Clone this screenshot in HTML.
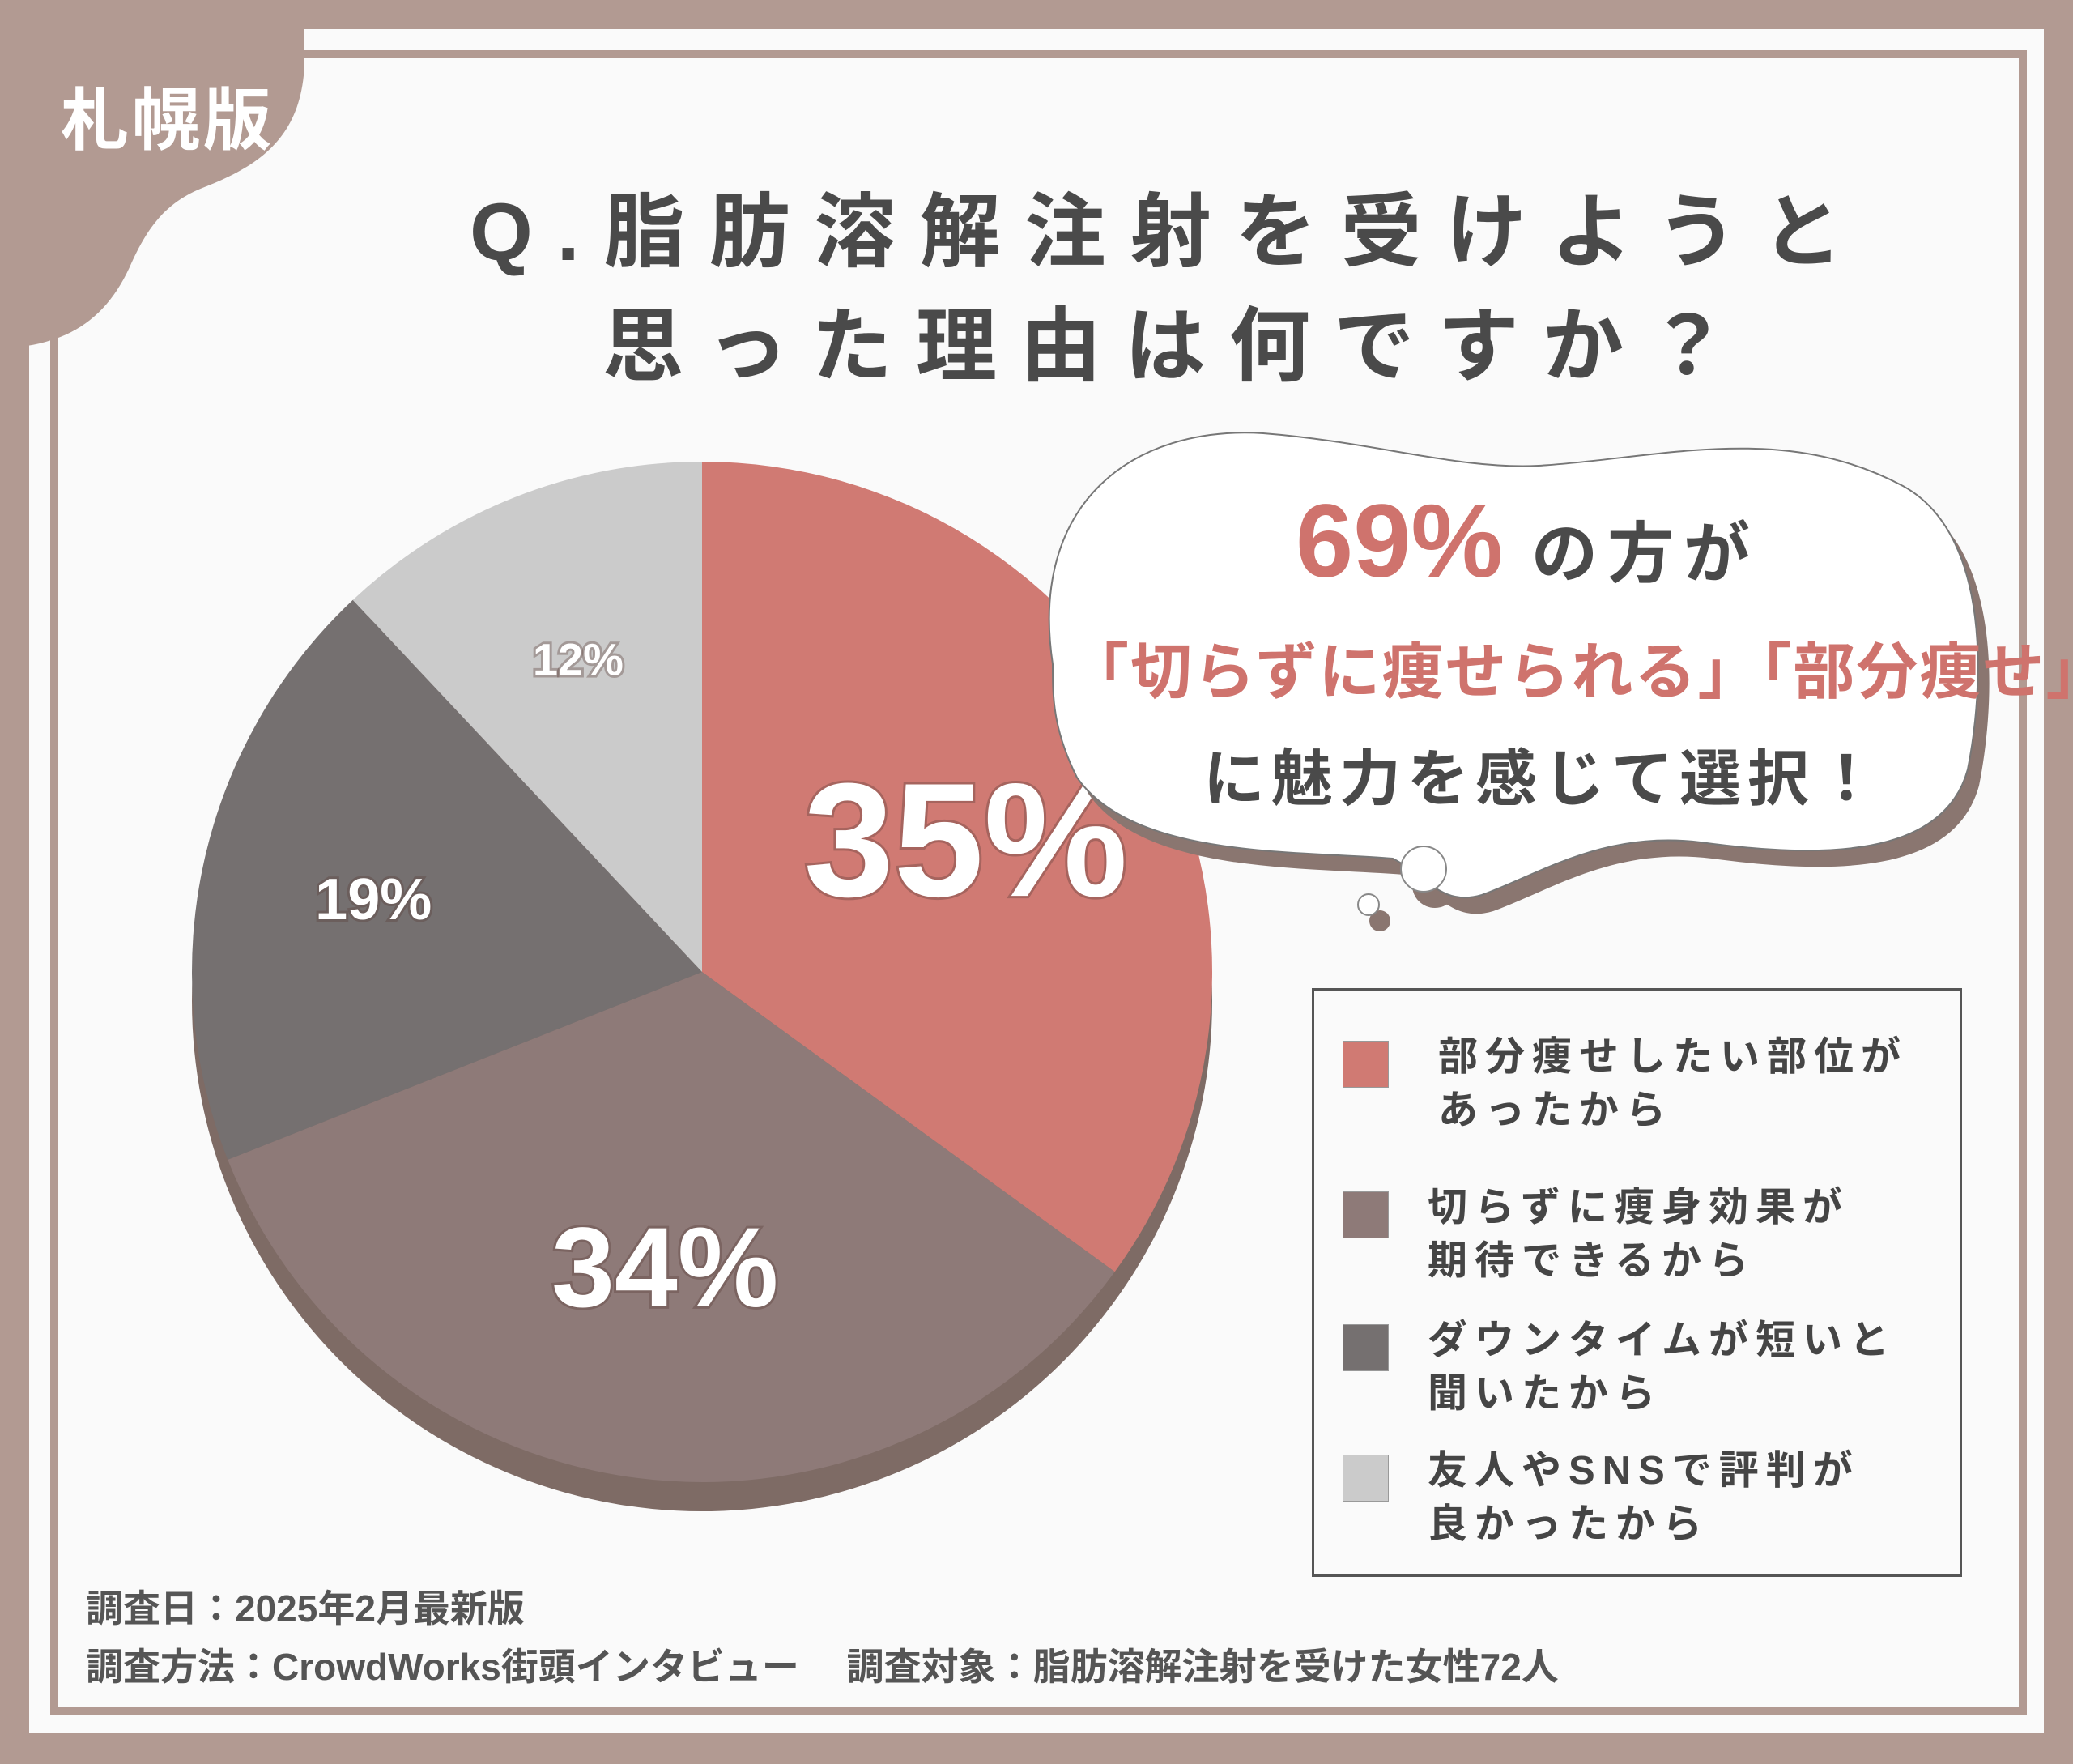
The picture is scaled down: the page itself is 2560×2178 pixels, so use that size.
<!DOCTYPE html>
<html><head><meta charset="utf-8">
<style>
html,body{margin:0;padding:0}
body{width:2560px;height:2178px;background:#b29a92;position:relative;overflow:hidden;font-family:"Liberation Sans","Noto Sans CJK JP",sans-serif}
.abs{position:absolute}
.t{white-space:nowrap;color:#4a4a4a;font-weight:bold}
</style></head><body>
<div class="abs" style="left:36px;top:36px;width:2488px;height:2104px;background:#fafafa"></div>
<div class="abs" style="left:62px;top:62px;width:2431px;height:2046px;border:10px solid #b29a92;box-sizing:content-box;width:2421px;height:2036px"></div>
<svg class="abs" style="left:0;top:0" width="420" height="440">
<path d="M0,0 L376,0 L376,80 C372,170 320,205 250,232 C205,250 182,280 160,330 C130,395 85,420 27,428 L0,430 Z" fill="#b29a92"/>
</svg>
<div class="abs t" style="left:75px;top:82px;font-size:84px;color:#fff;letter-spacing:4px">札幌版</div>
<div class="abs t" style="left:580px;top:205px;font-size:100px;letter-spacing:30px">Q.脂肪溶解注射を受けようと</div>
<div class="abs t" style="left:744px;top:346px;font-size:100px;letter-spacing:29px">思った理由は何ですか？</div>

<svg class="abs" id="pie" style="left:0;top:0" width="2560" height="2178"></svg>

<svg class="abs" style="left:0;top:0" width="2560" height="2178">
<g transform="translate(14,20)" fill="#8a7670">
<path d="M1300,820 C1270,620 1400,525 1560,535 C1700,546 1800,580 1900,575 C2050,566 2200,520 2350,600 C2460,660 2450,850 2430,950 C2400,1060 2250,1060 2100,1040 C1980,1025 1900,1080 1830,1105 C1780,1120 1760,1080 1720,1060 C1600,1050 1400,1060 1330,960 C1300,900 1300,860 1300,820 Z"/>
<circle cx="1758" cy="1073" r="28"/><circle cx="1690" cy="1117" r="13"/>
</g>
<path d="M1300,820 C1270,620 1400,525 1560,535 C1700,546 1800,580 1900,575 C2050,566 2200,520 2350,600 C2460,660 2450,850 2430,950 C2400,1060 2250,1060 2100,1040 C1980,1025 1900,1080 1830,1105 C1780,1120 1760,1080 1720,1060 C1600,1050 1400,1060 1330,960 C1300,900 1300,860 1300,820 Z" fill="#fff" stroke="#777" stroke-width="2"/>
<circle cx="1758" cy="1073" r="28" fill="#fff" stroke="#888" stroke-width="2"/>
<circle cx="1690" cy="1117" r="13" fill="#fff" stroke="#888" stroke-width="2"/>
</svg>
<div class="abs t" style="left:1600px;top:595px;font-size:82px"><span style="color:#cf736d;font-size:128px">69%</span><span style="letter-spacing:12px"> の方が</span></div>
<div class="abs t" style="left:1318px;top:768px;font-size:76px;color:#cf736d;letter-spacing:2px">「切らずに痩せられる」「部分痩せ」</div>
<div class="abs t" style="left:1486px;top:900px;font-size:76px;letter-spacing:8px">に魅力を感じて選択！</div>

<div class="abs" style="left:1620px;top:1220px;width:797px;height:721px;border:3px solid #555;background:#fafafa"></div>
<div id="legend"></div>

<div class="abs t" style="left:106px;top:1950px;font-size:46px;color:#555">調査日：2025年2月最新版</div>
<div class="abs t" style="left:106px;top:2022px;font-size:46px;color:#555">調査方法：CrowdWorks街頭インタビュー　 調査対象：脂肪溶解注射を受けた女性72人</div>

<script>
const categories=["部分痩せしたい部位があったから","切らずに痩身効果が期待できるから","ダウンタイムが短いと聞いたから","友人やSNSで評判が良かったから"];
const legendLine1=["部分痩せしたい部位が","切らずに痩身効果が","ダウンタイムが短いと","友人やSNSで評判が"];
const legendLine2=["あったから","期待できるから","聞いたから","良かったから"];
const values=[35,34,19,12];
const labels=["35%","34%","19%","12%"];
const colors=["#d07a73","#8e7a78","#757070","#cbcbcb"];
const labelSizes=[200,140,72,56];
const NS="http://www.w3.org/2000/svg";
const cx=867,cy=1200,R=630,depth=36;
const svg=document.getElementById('pie');
const total=values.reduce((a,b)=>a+b,0);
function pt(a,r){return [cx+r*Math.sin(a),cy-r*Math.cos(a)];}
const shadow=document.createElementNS(NS,'circle');


shadow.setAttribute('cx',cx);shadow.setAttribute('cy',cy+depth);shadow.setAttribute('r',R);shadow.setAttribute('fill','#7e6b65');
svg.appendChild(shadow);
let acc=0;
values.forEach((v,i)=>{
  const a0=acc/total*2*Math.PI;acc+=v;const a1=acc/total*2*Math.PI;
  const p0=pt(a0,R),p1=pt(a1,R);
  const path=document.createElementNS(NS,'path');
  
  
  path.setAttribute('d',`M${cx},${cy} L${p0[0]},${p0[1]} A${R},${R} 0 ${a1-a0>Math.PI?1:0} 1 ${p1[0]},${p1[1]} Z`);
  path.setAttribute('fill',colors[i]);
  svg.appendChild(path);
  const am=(a0+a1)/2;const lr=i<2?0.58*R:0.66*R;const lp=pt(am,lr);
  const t=document.createElementNS(NS,'text');
  
  
  t.setAttribute('x',lp[0]);t.setAttribute('y',lp[1]+labelSizes[i]*0.36);
  t.setAttribute('text-anchor','middle');t.setAttribute('fill','#fff');
  t.setAttribute('font-size',labelSizes[i]);t.setAttribute('font-weight','bold');
  t.setAttribute('font-family','"Liberation Sans",sans-serif');
  t.setAttribute('style','paint-order:stroke;stroke:rgba(90,60,55,0.35);stroke-width:6px');
  t.textContent=labels[i];
  svg.appendChild(t);
});
const lg=document.getElementById('legend');
const sy=[1314,1500,1664,1825];
const tx=[1776,1763,1763,1763];
categories.forEach((c,i)=>{
  const sw=document.createElement('div');
  
  
  sw.className='abs';
  sw.style.cssText=`left:1658px;top:${sy[i]-29}px;width:57px;height:58px;background:${colors[i]};border:1px solid #999;box-sizing:border-box`;
  lg.appendChild(sw);
  const tt=document.createElement('div');
  
  
  tt.className='abs t';
  tt.title=c;
  tt.style.cssText=`left:${tx[i]}px;top:${sy[i]-42}px;font-size:49px;line-height:66px;letter-spacing:9px;color:#454545`;
  tt.innerHTML=legendLine1[i]+'<br>'+legendLine2[i];
  lg.appendChild(tt);
});
</script>
</body></html>
